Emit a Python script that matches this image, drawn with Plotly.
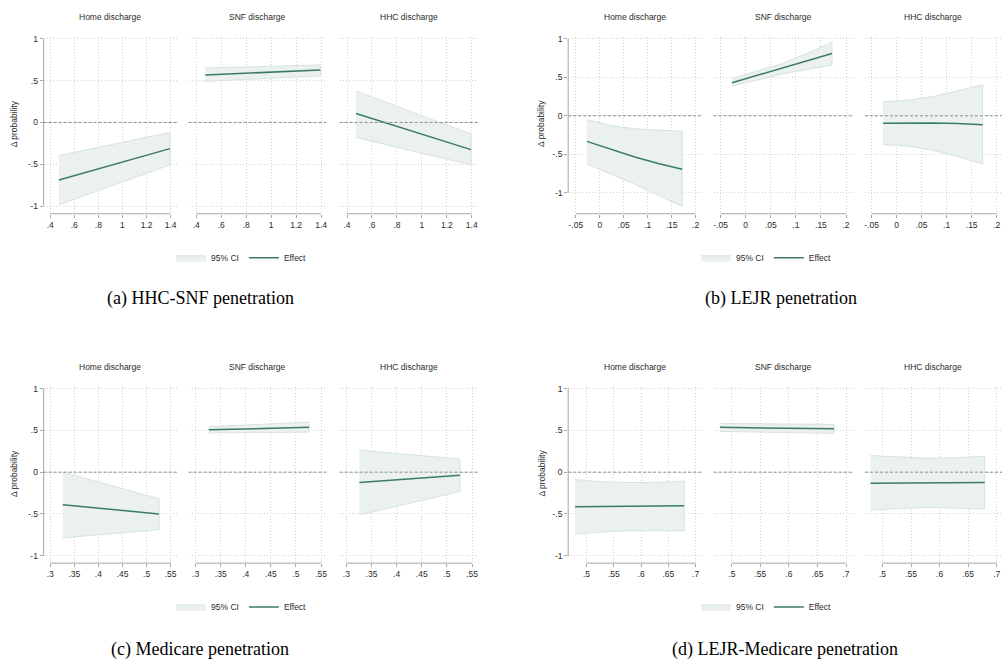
import plotly.graph_objects as go

FIG_W, FIG_H = 1003, 666

SUBPLOT_TITLES = ["Home discharge", "SNF discharge", "HHC discharge"]
PANEL_CAPTIONS = ["(a) HHC-SNF penetration", "(b) LEJR penetration",
                  "(c) Medicare penetration", "(d) LEJR-Medicare penetration"]
Y_TITLE = "Δ probability"
Y_TICKS = [-1, -0.5, 0, 0.5, 1]
Y_TICK_TEXT = ["-1", "-.5", "0", ".5", "1"]

# ---------------- Panel (a) HHC-SNF penetration ----------------
A_X = [0.472, 0.933, 1.394]
A_HOME_EFFECT = [-0.687, -0.500, -0.313]
A_HOME_UPPER = [-0.397, -0.258, -0.119]
A_HOME_LOWER = [-0.984, -0.746, -0.508]
A_SNF_EFFECT = [0.568, 0.598, 0.627]
A_SNF_UPPER = [0.651, 0.669, 0.687]
A_SNF_LOWER = [0.492, 0.524, 0.556]
A_HHC_EFFECT = [0.107, -0.109, -0.325]
A_HHC_UPPER = [0.377, 0.119, -0.139]
A_HHC_LOWER = [-0.179, -0.344, -0.508]
A_XTICKS = [0.4, 0.6, 0.8, 1.0, 1.2, 1.4]
A_XTICK_TEXT = [".4", ".6", ".8", "1", "1.2", "1.4"]

# ---------------- Panel (b) LEJR penetration ----------------
B_X = [-0.027, 0.023, 0.073, 0.122, 0.172]
B_HOME_EFFECT = [-0.333, -0.435, -0.535, -0.620, -0.696]
B_HOME_UPPER = [-0.052, -0.125, -0.170, -0.190, -0.203]
B_HOME_LOWER = [-0.627, -0.760, -0.890, -1.030, -1.179]
B_SNF_EFFECT = [0.431, 0.525, 0.620, 0.715, 0.811]
B_SNF_UPPER = [0.483, 0.580, 0.680, 0.810, 0.958]
B_SNF_LOWER = [0.389, 0.465, 0.545, 0.605, 0.661]
B_HHC_EFFECT = [-0.096, -0.092, -0.093, -0.100, -0.117]
B_HHC_UPPER = [0.181, 0.205, 0.250, 0.320, 0.401]
B_HHC_LOWER = [-0.376, -0.393, -0.450, -0.530, -0.627]
B_XTICKS = [-0.05, 0.0, 0.05, 0.1, 0.15, 0.2]
B_XTICK_TEXT = ["-.05", "0", ".05", ".1", ".15", ".2"]

# ---------------- Panel (c) Medicare penetration ----------------
C_X = [0.326, 0.426, 0.526]
C_HOME_EFFECT = [-0.389, -0.445, -0.500]
C_HOME_UPPER = [0.000, -0.160, -0.318]
C_HOME_LOWER = [-0.786, -0.737, -0.687]
C_SNF_EFFECT = [0.507, 0.522, 0.536]
C_SNF_UPPER = [0.543, 0.571, 0.599]
C_SNF_LOWER = [0.468, 0.474, 0.480]
C_HHC_EFFECT = [-0.123, -0.080, -0.036]
C_HHC_UPPER = [0.265, 0.210, 0.155]
C_HHC_LOWER = [-0.512, -0.372, -0.231]
C_XTICKS = [0.3, 0.35, 0.4, 0.45, 0.5, 0.55]
C_XTICK_TEXT = [".3", ".35", ".4", ".45", ".5", ".55"]

# ---------------- Panel (d) LEJR-Medicare penetration ----------------
D_X = [0.479, 0.529, 0.579, 0.629, 0.679]
D_HOME_EFFECT = [-0.413, -0.410, -0.407, -0.404, -0.401]
D_HOME_UPPER = [-0.088, -0.115, -0.124, -0.122, -0.107]
D_HOME_LOWER = [-0.738, -0.715, -0.700, -0.698, -0.702]
D_SNF_EFFECT = [0.536, 0.534, 0.530, 0.523, 0.519]
D_SNF_UPPER = [0.583, 0.580, 0.577, 0.574, 0.571]
D_SNF_LOWER = [0.488, 0.484, 0.478, 0.470, 0.464]
D_HHC_EFFECT = [-0.131, -0.129, -0.127, -0.125, -0.123]
D_HHC_UPPER = [0.198, 0.178, 0.167, 0.172, 0.190]
D_HHC_LOWER = [-0.452, -0.435, -0.421, -0.428, -0.440]
D_XTICKS = [0.5, 0.55, 0.6, 0.65, 0.7]
D_XTICK_TEXT = [".5", ".55", ".6", ".65", ".7"]

PANELS = [
    dict(x=A_X, series=[(A_HOME_EFFECT, A_HOME_UPPER, A_HOME_LOWER),
                        (A_SNF_EFFECT, A_SNF_UPPER, A_SNF_LOWER),
                        (A_HHC_EFFECT, A_HHC_UPPER, A_HHC_LOWER)],
         xticks=A_XTICKS, xtext=A_XTICK_TEXT),
    dict(x=B_X, series=[(B_HOME_EFFECT, B_HOME_UPPER, B_HOME_LOWER),
                        (B_SNF_EFFECT, B_SNF_UPPER, B_SNF_LOWER),
                        (B_HHC_EFFECT, B_HHC_UPPER, B_HHC_LOWER)],
         xticks=B_XTICKS, xtext=B_XTICK_TEXT),
    dict(x=C_X, series=[(C_HOME_EFFECT, C_HOME_UPPER, C_HOME_LOWER),
                        (C_SNF_EFFECT, C_SNF_UPPER, C_SNF_LOWER),
                        (C_HHC_EFFECT, C_HHC_UPPER, C_HHC_LOWER)],
         xticks=C_XTICKS, xtext=C_XTICK_TEXT),
    dict(x=D_X, series=[(D_HOME_EFFECT, D_HOME_UPPER, D_HOME_LOWER),
                        (D_SNF_EFFECT, D_SNF_UPPER, D_SNF_LOWER),
                        (D_HHC_EFFECT, D_HHC_UPPER, D_HHC_LOWER)],
         xticks=D_XTICKS, xtext=D_XTICK_TEXT),
]

# ---------------- Layout geometry (pixels) ----------------
LEFT_REGIONS = [(42.7, 176.0), (188.0, 326.0), (339.3, 478.0)]
RIGHT_REGIONS = [(568.3, 701.7), (714.0, 853.3), (865.7, 1003.0)]
GEOM = [
    dict(regions=LEFT_REGIONS, tickpx=[(49.3, 170.0), (195.7, 320.7), (346.7, 471.7)],
         top=34.0, bottom=211.7, y0=120.0, ppu=84.0, ytitle_x=13.0,
         title_y=14.0, legend_x=241.0, legend_y=256.0, caption_x=200.0, caption_y=297.0),
    dict(regions=RIGHT_REGIONS, tickpx=[(576.0, 696.0), (721.0, 846.7), (872.3, 997.7)],
         top=34.0, bottom=211.7, y0=113.3, ppu=77.2, ytitle_x=541.7,
         title_y=14.0, legend_x=767.0, legend_y=256.0, caption_x=782.0, caption_y=297.0),
    dict(regions=LEFT_REGIONS, tickpx=[(49.3, 170.0), (195.0, 320.7), (346.0, 472.0)],
         top=385.5, bottom=562.7, y0=471.3, ppu=84.0, ytitle_x=13.0,
         title_y=366.0, legend_x=241.0, legend_y=606.7, caption_x=199.0, caption_y=649.0),
    dict(regions=RIGHT_REGIONS, tickpx=[(586.7, 696.0), (732.3, 846.7), (883.3, 997.7)],
         top=385.5, bottom=562.7, y0=471.3, ppu=84.0, ytitle_x=541.7,
         title_y=366.0, legend_x=767.0, legend_y=606.7, caption_x=786.0, caption_y=649.0),
]

FONT = "Liberation Sans, Arial, Helvetica, sans-serif"
TEXT_COLOR = "#2b2b2b"
LINE_COLOR = "#3a7a6c"
BAND_FILL = "#ebf1ef"
BAND_EDGE = "#d6e3df"
GRID_COLOR = "#d2d2d2"
GRID_DASH = "1px,2px"
AXIS_COLOR = "#a6a6a6"

fig = go.Figure()
layout = dict(width=FIG_W, height=FIG_H, margin=dict(l=0, r=0, t=0, b=0),
              paper_bgcolor="white", plot_bgcolor="white", showlegend=True)
shapes, annotations = [], []

for p, (panel, g) in enumerate(zip(PANELS, GEOM)):
    legend_name = "legend" if p == 0 else f"legend{p + 1}"
    layout[legend_name] = dict(
        orientation="h", x=g["legend_x"] / FIG_W, y=1 - g["legend_y"] / FIG_H,
        xanchor="center", yanchor="middle", bgcolor="rgba(0,0,0,0)",
        font=dict(family=FONT, size=8.5, color=TEXT_COLOR), itemwidth=30,
        tracegroupgap=0,
    )
    ylo = (g["y0"] - g["bottom"]) / g["ppu"]
    yhi = (g["y0"] - g["top"]) / g["ppu"]
    for s in range(3):
        n = p * 3 + s + 1
        sfx = "" if n == 1 else str(n)
        L, R = g["regions"][s]
        pa, pb = g["tickpx"][s]
        a, b = panel["xticks"][0], panel["xticks"][-1]
        scale = (pb - pa) / (b - a)
        xr = [a + (L - pa) / scale, a + (R - pa) / scale]
        layout["xaxis" + sfx] = dict(
            domain=[L / FIG_W, R / FIG_W], range=xr, anchor="y" + sfx,
            tickvals=panel["xticks"], ticktext=panel["xtext"],
            ticks="outside", ticklen=3, tickcolor=AXIS_COLOR, tickwidth=1,
            showgrid=True, gridcolor=GRID_COLOR, griddash=GRID_DASH, gridwidth=1,
            showline=False, zeroline=False, fixedrange=True,
            tickfont=dict(family=FONT, size=8.5, color=TEXT_COLOR),
        )
        layout["yaxis" + sfx] = dict(
            domain=[1 - g["bottom"] / FIG_H, 1 - g["top"] / FIG_H], range=[ylo, yhi],
            anchor="x" + sfx, tickvals=Y_TICKS, ticktext=Y_TICK_TEXT,
            showticklabels=(s == 0), ticks="outside" if s == 0 else "",
            ticklen=3, tickcolor=AXIS_COLOR, tickwidth=1,
            showgrid=True, gridcolor=GRID_COLOR, griddash=GRID_DASH, gridwidth=1,
            showline=False, zeroline=False, fixedrange=True,
            tickfont=dict(family=FONT, size=8.5, color=TEXT_COLOR),
        )
        eff, up, lo = panel["series"][s]
        xs = panel["x"]
        fig.add_trace(go.Scatter(
            x=list(xs) + list(xs)[::-1], y=list(up) + list(lo)[::-1],
            fill="toself", fillcolor=BAND_FILL, mode="lines",
            line=dict(color=BAND_EDGE, width=1), name="95% CI",
            legend=legend_name, showlegend=(s == 0), hoverinfo="skip",
            xaxis="x" + sfx, yaxis="y" + sfx,
        ))
        fig.add_trace(go.Scatter(
            x=xs, y=eff, mode="lines", line=dict(color=LINE_COLOR, width=1.5),
            name="Effect", legend=legend_name, showlegend=(s == 0),
            xaxis="x" + sfx, yaxis="y" + sfx,
        ))
        shapes.append(dict(type="line", xref=f"x{sfx} domain", x0=0, x1=1,
                           yref="y" + sfx, y0=0, y1=0, layer="above",
                           line=dict(color="#8f8f8f", width=1, dash="3px,2px")))
        shapes.append(dict(type="line", xref="x" + sfx, x0=a, x1=b,
                           yref=f"y{sfx} domain", y0=0, y1=0,
                           line=dict(color=AXIS_COLOR, width=1)))
        if s == 0:
            shapes.append(dict(type="line", xref=f"x{sfx} domain", x0=0, x1=0,
                               yref="y" + sfx, y0=Y_TICKS[0], y1=Y_TICKS[-1],
                               line=dict(color=AXIS_COLOR, width=1)))
            annotations.append(dict(
                text=Y_TITLE, xref="paper", yref="paper",
                x=g["ytitle_x"] / FIG_W, y=1 - ((g["top"] + g["bottom"] - 4) / 2) / FIG_H,
                textangle=-90, showarrow=False, xanchor="center", yanchor="middle",
                font=dict(family=FONT, size=8.5, color=TEXT_COLOR)))
        annotations.append(dict(
            text=SUBPLOT_TITLES[s], xref=f"x{sfx} domain", yref="paper",
            x=0.5, y=1 - g["title_y"] / FIG_H, showarrow=False,
            xanchor="center", yanchor="middle",
            font=dict(family=FONT, size=8.5, color=TEXT_COLOR)))
    annotations.append(dict(
        text=PANEL_CAPTIONS[p], xref="paper", yref="paper",
        x=g["caption_x"] / FIG_W, y=1 - g["caption_y"] / FIG_H, showarrow=False,
        xanchor="center", yanchor="middle",
        font=dict(family="Liberation Serif, Times New Roman, serif", size=18, color="black")))

layout["shapes"] = shapes
layout["annotations"] = annotations
fig.update_layout(**layout)
fig.write_html("out.html")
